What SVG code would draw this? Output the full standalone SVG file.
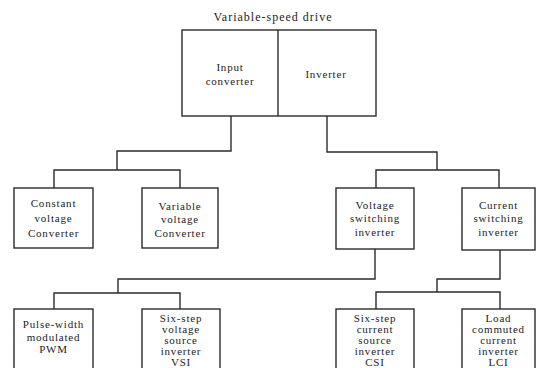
<svg xmlns="http://www.w3.org/2000/svg" width="536" height="368" viewBox="0 0 536 368">
<style>
.box{fill:none;stroke:#2b2b2b;stroke-width:1.4}
.ln{fill:none;stroke:#2b2b2b;stroke-width:1.4}
text{font-family:"Liberation Serif","Times New Roman",serif;font-size:11px;fill:#222;text-anchor:middle;letter-spacing:0.8px}
.title{font-size:12px;letter-spacing:1px}
</style>
<rect width="536" height="368" fill="#ffffff"/>
<text class="title" x="273" y="21">Variable-speed drive</text>
<g id="drive">
<rect class="box" x="182" y="30" width="194" height="86"/>
<line class="ln" x1="278" y1="30" x2="278" y2="116"/>
</g>
<g id="input-converter">
<text x="230" y="71">Input</text>
<text x="230" y="85">converter</text>
</g>
<g id="inverter">
<text x="326" y="78">Inverter</text>
</g>
<g id="constant-voltage">
<rect class="box" x="14" y="188" width="79" height="60"/>
<text x="53.5" y="207">Constant</text>
<text x="53.5" y="222">voltage</text>
<text x="53.5" y="237">Converter</text>
</g>
<g id="variable-voltage">
<rect class="box" x="142" y="188" width="76" height="60"/>
<text x="180" y="210">Variable</text>
<text x="180" y="223">voltage</text>
<text x="180" y="237">Converter</text>
</g>
<g id="voltage-switching">
<rect class="box" x="336" y="188" width="78" height="61"/>
<text x="375" y="209">Voltage</text>
<text x="375" y="222">switching</text>
<text x="375" y="236">inverter</text>
</g>
<g id="current-switching">
<rect class="box" x="462" y="188" width="73" height="62"/>
<text x="498.5" y="209">Current</text>
<text x="498.5" y="222">switching</text>
<text x="498.5" y="236">inverter</text>
</g>
<g id="pwm">
<rect class="box" x="14" y="309" width="79" height="70"/>
<text x="53.5" y="328">Pulse-width</text>
<text x="53.5" y="341">modulated</text>
<text x="53.5" y="353">PWM</text>
</g>
<g id="vsi">
<rect class="box" x="142" y="309" width="78" height="70"/>
<text x="181" y="322">Six-step</text>
<text x="181" y="333">voltage</text>
<text x="181" y="344">source</text>
<text x="181" y="355">inverter</text>
<text x="181" y="366">VSI</text>
</g>
<g id="csi">
<rect class="box" x="336" y="309" width="78" height="70"/>
<text x="375" y="322">Six-step</text>
<text x="375" y="333">current</text>
<text x="375" y="344">source</text>
<text x="375" y="355">inverter</text>
<text x="375" y="366">CSI</text>
</g>
<g id="lci">
<rect class="box" x="462" y="309" width="73" height="70"/>
<text x="498.5" y="322">Load</text>
<text x="498.5" y="333">commuted</text>
<text x="498.5" y="344">current</text>
<text x="498.5" y="355">inverter</text>
<text x="498.5" y="366">LCI</text>
</g>
<g id="connectors">
<polyline class="ln" points="231,116 231,151 117,151 117,170"/>
<polyline class="ln" points="54,188 54,170 180,170 180,188"/>
<polyline class="ln" points="327,116 327,152 437,152 437,170"/>
<polyline class="ln" points="376,188 376,170 499,170 499,188"/>
<polyline class="ln" points="375,249 375,279 118,279 118,293"/>
<polyline class="ln" points="54,309 54,293 180,293 180,309"/>
<polyline class="ln" points="500,250 500,279 437,279 437,292"/>
<polyline class="ln" points="376,309 376,292 500,292 500,309"/>
</g>
</svg>
